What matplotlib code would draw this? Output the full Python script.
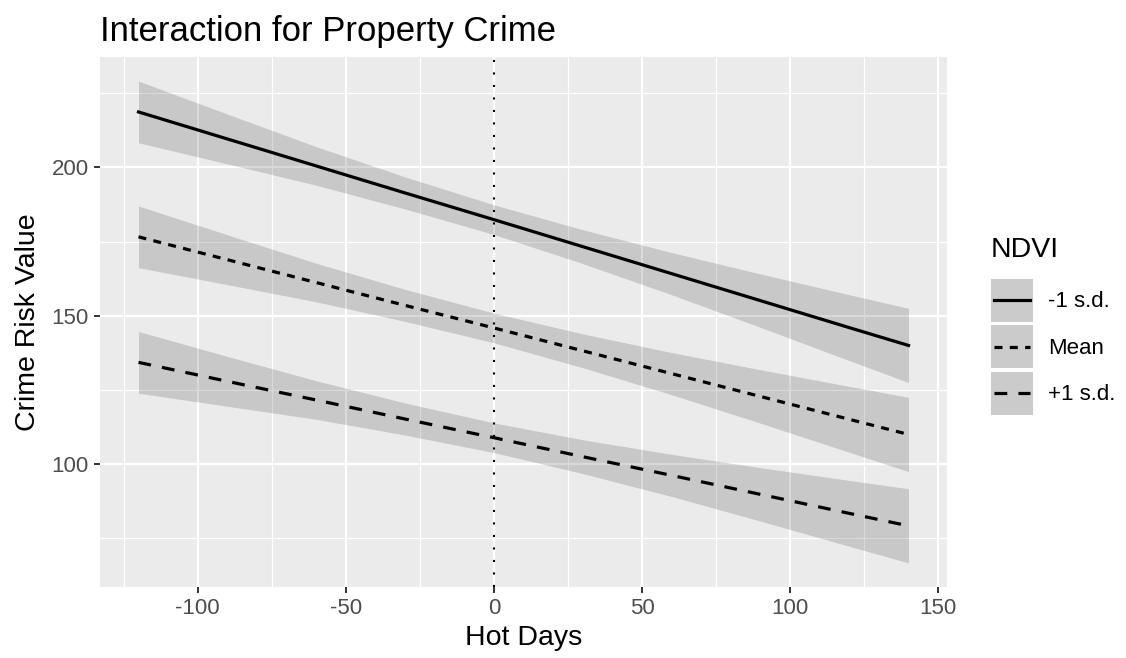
import matplotlib
matplotlib.use("Agg")
import matplotlib.pyplot as plt
from matplotlib.legend_handler import HandlerBase
from matplotlib.lines import Line2D
from matplotlib.patches import Rectangle
from matplotlib.ticker import MultipleLocator
import numpy as np

plt.rcParams["font.family"] = ["Liberation Sans", "DejaVu Sans"]
plt.rcParams["axes.unicode_minus"] = False

# values
hot_days = [-120, -90, -60, -30, 0, 30, 60, 90, 120, 140]
fit_minus_sd = [218.7, 209.6, 200.5, 191.4, 182.4, 173.3, 164.2, 155.1, 146.0, 140.0]
fit_mean = [176.6, 168.9, 161.2, 153.5, 145.9, 138.2, 130.5, 122.8, 115.1, 110.0]
fit_plus_sd = [134.3, 127.9, 121.6, 115.2, 108.9, 102.5, 96.2, 89.8, 83.4, 79.2]
ci_half = [10.4, 8.4, 6.5, 5.4, 5.0, 5.7, 7.1, 9.0, 11.1, 12.5]

series_labels = ["-1 s.d.", "Mean", "+1 s.d."]
series_fits = [fit_minus_sd, fit_mean, fit_plus_sd]
line_styles = ["-", (0, (2.5, 2.3)), (0, (4, 3.5))]

title = "Interaction for Property Crime"
x_label = "Hot Days"
y_label = "Crime Risk Value"
legend_title = "NDVI"


class KeyHandler(HandlerBase):
    """ggplot-like legend key: grey square with the line centred on it."""

    def create_artists(self, legend, orig_handle, xdescent, ydescent,
                       width, height, fontsize, trans):
        rect = Rectangle((-xdescent, -ydescent), width, height,
                         facecolor="#CBCBCB", edgecolor="none", transform=trans)
        yc = -ydescent + height / 2
        line = Line2D([-xdescent + 0.07 * width, -xdescent + 0.93 * width], [yc, yc])
        self.update_prop(line, orig_handle, legend)
        line.set_transform(trans)
        return [rect, line]


W, H = 1126, 658
fig = plt.figure(figsize=(W / 100, H / 100), dpi=100)
ax = fig.add_axes([100 / W, 1 - 587 / H, (947 - 100) / W, (587 - 57) / H])
ax.set_facecolor("#EBEBEB")

x = np.asarray(hot_days, dtype=float)
half = np.asarray(ci_half, dtype=float)
lw = 2.3
handles = []
for lab, fit, ls in zip(series_labels, series_fits, line_styles):
    y = np.asarray(fit, dtype=float)
    ax.fill_between(x, y - half, y + half, color="black", alpha=0.15, lw=0, zorder=2)
    ln, = ax.plot(x, y, color="black", lw=lw, ls=ls, zorder=3)
    handles.append(ln)

ax.axvline(0, color="black", lw=1.5, ls=(0, (1, 5)), zorder=4)

# ggplot-style 5% expansion
lo = min(min(np.asarray(f) - half) for f in series_fits)
hi = max(max(np.asarray(f) + half) for f in series_fits)
ax.set_xlim(x.min() - 0.05 * (x.max() - x.min()), x.max() + 0.05 * (x.max() - x.min()))
ax.set_ylim(lo - 0.05 * (hi - lo), hi + 0.05 * (hi - lo))

ax.xaxis.set_major_locator(MultipleLocator(50))
ax.xaxis.set_minor_locator(MultipleLocator(25))
ax.yaxis.set_major_locator(MultipleLocator(50))
ax.yaxis.set_minor_locator(MultipleLocator(25))
ax.grid(which="major", color="white", lw=1.6)
ax.grid(which="minor", color="white", lw=0.9)
ax.set_axisbelow(True)
for s in ax.spines.values():
    s.set_visible(False)
ax.tick_params(which="major", length=4.5, width=1.4, color="#333333",
               labelcolor="#4D4D4D", labelsize=16, pad=3.5)
ax.tick_params(which="minor", length=0)

ax.set_xlabel(x_label, fontsize=20.5, labelpad=4)
ax.set_ylabel(y_label, fontsize=20.5, labelpad=8)
fig.text(100 / W, 1 - 31 / H, title, fontsize=25, ha="left", va="center")

leg = ax.legend(handles, series_labels, title=legend_title,
                handler_map={Line2D: KeyHandler()},
                loc="upper left", bbox_to_anchor=(991 / W, 1 - 237 / H),
                bbox_transform=fig.transFigure, frameon=False, fontsize=16,
                title_fontsize=20.5, handlelength=1.9, handleheight=2.6,
                labelspacing=0.15, handletextpad=0.65, borderpad=0,
                borderaxespad=0, alignment="left")
leg._legend_box.sep = 11.5

fig.savefig("out.png", dpi=100)
